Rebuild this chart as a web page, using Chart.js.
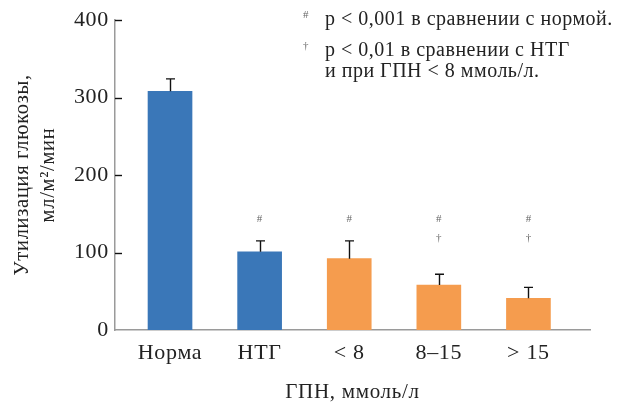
<!DOCTYPE html>
<html>
<head>
<meta charset="utf-8">
<script src="https://cdn.jsdelivr.net/npm/chart.js@4.4.1/dist/chart.umd.min.js"></script>
<style>
  html, body { margin: 0; padding: 0; background: #fff; }
  #wrap { width: 629px; height: 405px; }
</style>
</head>
<body>
<div id="wrap"><canvas id="glucoseChart"></canvas></div>
<script>
const categories = ['Норма', 'НТГ', '< 8', '8–15', '> 15'];
const utilization = [308, 101, 92, 58, 41];
const errorTop = [324, 115, 115, 72, 55];
const marks = [[], ['#'], ['#'], ['#', '†'], ['#', '†']];
const barColors = ['#3a77b8', '#3a77b8', '#f59c4e', '#f59c4e', '#f59c4e'];
const yTicks = [0, 100, 200, 300, 400];
const notes = [
    { sym: '#', lines: ['p < 0,001 в сравнении с нормой.'] },
    { sym: '†', lines: ['p < 0,01 в сравнении с НТГ', 'и при ГПН < 8 ммоль/л.'] }
];
const yTitle = ['Утилизация глюкозы,', 'мл/м²/мин'];
const xTitle = 'ГПН, ммоль/л';

const serif = '"Liberation Serif", "DejaVu Serif", serif';

// the original face is wider than Liberation Serif, open it up a bit
const spacing = {
    id: 'spacing',
    beforeLayout(chart) { chart.ctx.letterSpacing = '0.7px'; },
    beforeDraw(chart) { chart.ctx.letterSpacing = '0.7px'; }
};

// error bars, inner ticks, significance marks and notes
const extras = {
    id: 'extras',
    afterDatasetsDraw(chart) {
        const ctx = chart.ctx;
        const x = chart.scales.x, y = chart.scales.y;
        ctx.save();
        ctx.strokeStyle = '#111';
        ctx.lineWidth = 1.4;
        utilization.forEach((v, i) => {
            const cx = Math.round(x.getPixelForValue(i)) + 0.5;
            const y0 = y.getPixelForValue(v);
            const y1 = y.getPixelForValue(errorTop[i]);
            ctx.beginPath();
            ctx.moveTo(cx, y0);
            ctx.lineTo(cx, y1);
            ctx.moveTo(cx - 4.5, y1);
            ctx.lineTo(cx + 4.5, y1);
            ctx.stroke();
        });
        // inward ticks on the y axis
        yTicks.slice(1).forEach(t => {
            const py = Math.round(y.getPixelForValue(t)) + 0.5;
            ctx.beginPath();
            ctx.moveTo(x.left, py);
            ctx.lineTo(x.left + 7, py);
            ctx.stroke();
        });
        ctx.fillStyle = '#666';
        ctx.textAlign = 'center';
        ctx.textBaseline = 'middle';
        ctx.letterSpacing = '0px';
        ctx.font = '11px ' + serif;
        marks.forEach((m, i) => {
            const cx = x.getPixelForValue(i);
            m.forEach((s, k) => {
                ctx.fillText(s, cx, y.getPixelForValue(k === 0 ? 143 : 119));
            });
        });
        const noteTop = [25, 56];
        notes.forEach((n, j) => {
            let ly = noteTop[j];
            ctx.fillStyle = '#666';
            ctx.textAlign = 'left';
            ctx.textBaseline = 'middle';
            ctx.letterSpacing = '0px';
            ctx.font = '11px ' + serif;
            ctx.fillText(n.sym, 303, ly - 10);
            ctx.fillStyle = '#222';
            ctx.textBaseline = 'alphabetic';
            ctx.letterSpacing = '0.5px';
            ctx.font = '20px ' + serif;
            n.lines.forEach(line => {
                ctx.fillText(line, 325, ly);
                ly += 21;
            });
        });
        ctx.restore();
    }
};

const ctx = document.getElementById('glucoseChart').getContext('2d');
new Chart(ctx, {
    type: 'bar',
    data: {
        datasets: [{
            data: utilization.map((v, i) => ({ x: i, y: v })),
            backgroundColor: barColors,
            barThickness: 44
        }]
    },
    options: {
        responsive: true,
        maintainAspectRatio: false,
        animation: false,
        layout: { padding: { top: 20, right: 39, left: 0, bottom: 0 } },
        plugins: { legend: { display: false }, tooltip: { enabled: false } },
        scales: {
            x: {
                type: 'linear',
                offset: false,
                min: -0.614,
                max: 4.687,
                afterFit: s => { s.height = 75; },
                afterBuildTicks: s => { s.ticks = categories.map((c, i) => ({ value: i })); },
                grid: { display: false, drawTicks: false },
                border: { display: true, color: '#9a9a9a', width: 1.5 },
                ticks: {
                    callback: v => categories[v],
                    color: '#222',
                    font: { family: serif, size: 22 },
                    padding: 10,
                    maxRotation: 0,
                    autoSkip: false
                },
                title: {
                    display: true,
                    text: xTitle,
                    color: '#222',
                    font: { family: serif, size: 21 },
                    padding: { top: 0, bottom: 0 }
                }
            },
            y: {
                min: 0,
                max: 400,
                afterFit: s => { s.width = 115; },
                afterBuildTicks: s => { s.ticks = yTicks.map(v => ({ value: v })); },
                grid: { display: false, drawTicks: false },
                border: { display: true, color: '#9a9a9a', width: 1.5 },
                ticks: {
                    color: '#222',
                    font: { family: serif, size: 22 },
                    padding: 6
                },
                title: {
                    display: true,
                    text: yTitle,
                    color: '#222',
                    font: { family: serif, size: 20.5, lineHeight: 1.25 },
                    padding: { top: 10, bottom: 0 }
                }
            }
        }
    },
    plugins: [spacing, extras]
});
</script>
</body>
</html>
